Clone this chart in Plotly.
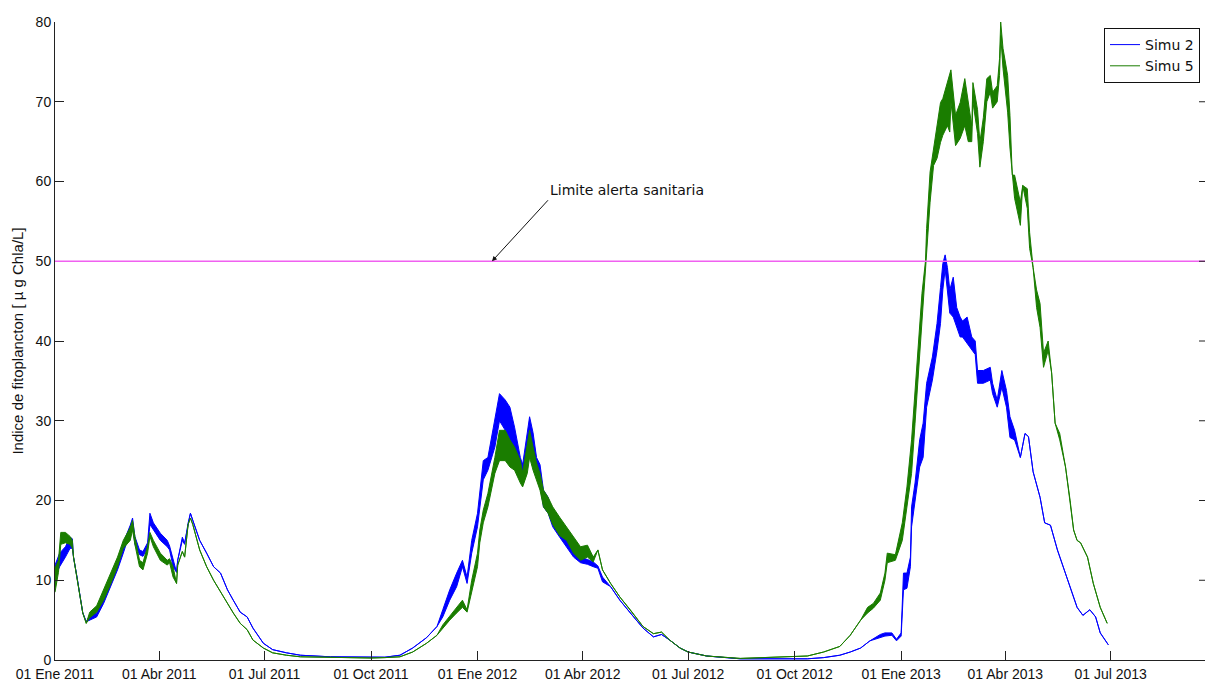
import pandas as pd
import plotly.graph_objects as go

START = pd.Timestamp("2011-01-01")

# Simu 2 — simulation day and lower / upper envelope of the tidal oscillation [µg Chla/L]
simu2_day = [0, 4, 9, 13, 15, 16, 19, 22, 24, 27, 30, 36, 42, 48, 54, 59, 65, 67, 69, 73,
             76, 80, 82, 85, 91, 97, 99, 102, 105, 106, 110, 112, 115, 117, 119, 125, 131, 137, 143, 149,
             154, 160, 166, 171, 180, 188, 200, 212, 238, 273, 285, 298, 309, 321, 330, 335, 341, 347, 352, 356,
             360, 365, 367, 370, 374, 380, 384, 389, 393, 397, 402, 404, 408, 410, 413, 416, 419, 422, 426, 430,
             436, 442, 448, 454, 460, 465, 469, 473, 480, 488, 497, 508, 517, 524, 531, 540, 547, 563, 592, 620,
             650, 664, 678, 687, 696, 704, 713, 717, 723, 727, 731, 733, 736, 739, 740, 743, 747, 750, 753, 758,
             762, 765, 767, 769, 771, 773, 776, 779, 782, 784, 788, 792, 795, 797, 802, 808, 810, 814, 818, 822,
             825, 829, 834, 838, 841, 845, 851, 855, 860, 866, 871, 877, 883, 888, 894, 899, 903, 910]
simu2_lo = [10.3, 11.7, 12.9, 14.0, 14.0, 12.9, 10.4, 7.9, 5.9, 4.8, 5.0, 5.4, 7.1, 9.2, 11.3, 13.4, 15.9, 17.0, 14.5, 13.2,
            13.0, 14.0, 17.0, 16.3, 15.0, 14.2, 13.8, 11.7, 11.0, 12.5, 15.0, 14.5, 17.2, 18.4, 17.5, 15.0, 13.4, 11.7, 10.9, 8.8,
            7.5, 6.0, 5.4, 4.0, 2.1, 1.3, 0.9, 0.6, 0.4, 0.3, 0.35, 0.6, 1.5, 2.8, 4.2, 5.4, 7.5, 9.2, 11.7, 9.6,
            13.4, 16.7, 19.2, 22.6, 23.8, 26.7, 30.0, 28.8, 27.6, 26.3, 22.6, 22.0, 25.4, 28.0, 25.4, 23.4, 22.0, 19.2, 18.4, 16.7,
            15.4, 14.2, 12.9, 12.2, 12.0, 11.7, 11.5, 9.8, 9.2, 7.5, 5.9, 4.0, 2.9, 3.2, 2.5, 1.5, 1.0, 0.5, 0.15, 0.15,
            0.15, 0.3, 0.6, 1.0, 1.5, 2.4, 2.8, 3.0, 3.1, 2.4, 3.0, 8.8, 9.0, 11.7, 16.7, 19.7, 24.2, 25.4, 31.7, 35.1,
            38.8, 42.2, 46.4, 49.0, 46.4, 43.5, 43.0, 41.7, 40.5, 40.5, 39.7, 38.8, 38.3, 34.7, 34.7, 35.1, 33.4, 31.7, 34.2, 31.7,
            27.9, 27.6, 25.4, 28.4, 28.0, 23.6, 20.4, 17.2, 16.9, 13.8, 11.7, 9.2, 6.6, 5.6, 6.3, 5.4, 3.4, 1.9]
simu2_hi = [11.9, 13.4, 14.2, 15.4, 15.2, 12.9, 10.4, 7.9, 5.9, 4.8, 5.6, 5.9, 7.9, 10.0, 12.2, 14.7, 16.9, 17.8, 15.5, 13.8,
            13.6, 14.7, 18.4, 17.2, 15.9, 15.0, 14.3, 12.5, 11.0, 12.5, 15.4, 14.7, 17.2, 18.4, 17.5, 15.0, 13.4, 11.7, 10.9, 8.8,
            7.5, 6.0, 5.4, 4.0, 2.1, 1.3, 0.9, 0.6, 0.4, 0.3, 0.35, 0.6, 1.5, 2.8, 4.2, 6.3, 8.8, 10.9, 12.5, 10.4,
            15.0, 18.4, 21.3, 25.0, 25.4, 30.5, 33.4, 32.6, 31.7, 29.2, 25.4, 24.5, 28.8, 30.5, 28.5, 25.4, 24.5, 21.3, 20.4, 18.5,
            17.5, 15.4, 14.7, 12.9, 12.6, 12.3, 11.8, 10.4, 9.2, 7.5, 5.9, 4.0, 2.9, 3.2, 2.5, 1.5, 1.0, 0.5, 0.15, 0.15,
            0.15, 0.3, 0.6, 1.0, 1.5, 2.4, 3.2, 3.4, 3.4, 2.6, 3.4, 10.9, 10.9, 12.9, 19.2, 22.2, 27.6, 29.7, 34.7, 38.0,
            42.2, 46.7, 49.7, 50.8, 49.2, 46.4, 48.0, 44.2, 43.0, 42.5, 43.0, 40.5, 40.0, 36.3, 36.3, 36.7, 34.7, 32.6, 36.3, 33.8,
            30.5, 28.8, 25.4, 28.4, 28.0, 23.6, 20.4, 17.2, 16.9, 13.8, 11.7, 9.2, 6.6, 5.6, 6.3, 5.4, 3.4, 1.9]

# Simu 5 — simulation day and lower / upper envelope [µg Chla/L]
simu5_day = [0, 3, 5, 9, 13, 15, 16, 19, 22, 24, 27, 30, 36, 42, 48, 54, 59, 65, 67, 69,
             73, 76, 80, 82, 85, 91, 97, 99, 102, 105, 106, 110, 112, 115, 117, 119, 125, 131, 137, 143,
             149, 154, 160, 166, 171, 180, 188, 200, 212, 238, 273, 285, 298, 309, 321, 330, 335, 341, 347, 352,
             356, 360, 365, 367, 370, 374, 380, 384, 389, 393, 397, 402, 404, 408, 410, 413, 416, 419, 422, 426,
             430, 436, 442, 448, 454, 460, 465, 469, 473, 480, 488, 497, 508, 517, 524, 531, 540, 547, 563, 592,
             620, 638, 650, 664, 678, 687, 696, 702, 707, 713, 717, 719, 726, 732, 736, 740, 743, 746, 749, 752,
             753, 756, 759, 762, 765, 767, 771, 773, 774, 778, 782, 786, 789, 792, 793, 797, 799, 802, 805, 808,
             810, 814, 816, 817, 819, 823, 825, 827, 829, 834, 836, 840, 842, 845, 848, 851, 854, 858, 861, 864,
             868, 873, 877, 880, 883, 886, 892, 897, 903, 909]
simu5_lo = [8.5, 11.0, 14.5, 14.7, 14.5, 14.0, 12.9, 10.4, 7.9, 5.9, 4.6, 5.3, 6.0, 7.5, 9.5, 11.7, 14.0, 15.0, 16.3, 14.5,
            11.7, 11.3, 13.4, 15.5, 14.2, 12.5, 11.9, 12.2, 10.4, 9.6, 11.9, 13.6, 12.9, 17.0, 17.8, 17.0, 13.8, 11.7, 10.0, 8.5,
            7.1, 5.9, 4.6, 3.8, 2.5, 1.5, 0.9, 0.6, 0.4, 0.3, 0.25, 0.3, 0.4, 1.0, 2.1, 3.1, 4.0, 5.0, 5.9, 6.6,
            6.0, 8.4, 11.7, 14.7, 17.2, 19.2, 23.4, 25.0, 25.0, 24.2, 23.8, 22.2, 21.7, 23.4, 25.4, 23.8, 22.6, 21.3, 19.2, 18.4,
            17.0, 15.6, 15.0, 13.4, 12.5, 12.9, 12.3, 13.8, 11.3, 9.6, 7.9, 6.3, 4.2, 3.3, 3.5, 2.5, 1.5, 1.0, 0.5, 0.2,
            0.35, 0.5, 0.5, 1.0, 1.7, 3.1, 5.0, 5.9, 6.5, 7.5, 10.0, 12.2, 12.5, 15.0, 19.2, 23.4, 29.7, 36.0, 42.2, 48.5,
            51.6, 57.4, 62.0, 62.9, 64.9, 65.8, 67.0, 66.2, 70.0, 64.5, 65.4, 67.0, 65.0, 65.0, 70.0, 66.0, 61.8, 65.0, 70.0, 71.2,
            69.2, 70.0, 73.3, 78.3, 74.2, 68.7, 64.2, 60.8, 57.9, 54.5, 59.5, 56.6, 51.6, 49.2, 44.2, 41.7, 36.7, 38.8, 36.0, 29.7,
            27.6, 24.2, 20.0, 16.3, 15.0, 14.7, 12.9, 9.6, 6.6, 4.6]
simu5_hi = [11.5, 12.5, 16.0, 16.0, 15.5, 15.0, 12.9, 10.4, 7.9, 5.9, 4.6, 6.0, 6.8, 8.8, 10.8, 12.9, 15.0, 16.6, 17.5, 15.5,
            12.5, 12.2, 14.3, 16.0, 15.0, 13.4, 12.5, 12.7, 11.7, 9.6, 11.9, 13.6, 12.9, 17.0, 17.8, 17.0, 13.8, 11.7, 10.0, 8.5,
            7.1, 5.9, 4.6, 3.8, 2.5, 1.5, 0.9, 0.6, 0.4, 0.3, 0.25, 0.3, 0.4, 1.0, 2.1, 3.1, 4.4, 5.5, 6.6, 7.5,
            6.3, 10.0, 13.4, 16.3, 18.8, 20.9, 25.4, 28.8, 28.8, 27.6, 26.7, 25.0, 23.5, 26.7, 28.8, 26.7, 24.7, 23.4, 21.3, 20.4,
            19.2, 17.9, 16.7, 15.4, 14.2, 14.4, 12.9, 13.8, 11.3, 9.6, 7.9, 6.3, 4.2, 3.3, 3.5, 2.5, 1.5, 1.0, 0.5, 0.2,
            0.35, 0.5, 0.5, 1.0, 1.7, 3.1, 5.0, 6.6, 7.1, 8.4, 10.9, 13.4, 13.2, 17.2, 21.7, 27.6, 33.8, 41.0, 46.0, 50.0,
            54.1, 61.2, 64.2, 67.0, 69.9, 70.4, 72.4, 73.7, 74.0, 68.3, 69.9, 72.9, 70.0, 67.0, 72.4, 69.0, 64.9, 68.0, 72.9, 73.3,
            71.2, 72.0, 75.4, 80.0, 76.7, 73.3, 68.3, 60.8, 60.8, 57.4, 59.5, 59.1, 53.6, 49.2, 46.4, 44.7, 38.5, 40.0, 36.0, 29.7,
            28.4, 24.2, 20.0, 16.3, 15.0, 14.7, 12.9, 9.6, 6.6, 4.6]

ALERT_LEVEL = 50  # sanitary alert threshold [µg Chla/L]

# axis ticks
y_ticks = [0, 10, 20, 30, 40, 50, 60, 70, 80]
x_tick_dates = ["2011-01-01", "2011-04-01", "2011-07-01", "2011-10-01",
                "2012-01-01", "2012-04-01", "2012-07-01", "2012-10-01",
                "2013-01-01", "2013-04-01", "2013-07-01"]
MESES = {1: "Ene", 4: "Abr", 7: "Jul", 10: "Oct"}
x_tick_text = [f"01 {MESES[pd.Timestamp(d).month]} {pd.Timestamp(d).year}" for d in x_tick_dates]

BLUE = "#0000ff"
GREEN = "#1a7d00"
MAGENTA = "#f060f0"
LABEL_FONT = "Liberation Sans, Arial, Helvetica, sans-serif"
TEXT_FONT = "DejaVu Sans, Verdana, sans-serif"


def to_dates(days):
    return [START + pd.Timedelta(days=d) for d in days]


fig = go.Figure()
for name, days, lo, hi, color in [("Simu 2", simu2_day, simu2_lo, simu2_hi, BLUE),
                                  ("Simu 5", simu5_day, simu5_lo, simu5_hi, GREEN)]:
    assert len(days) == len(lo) == len(hi)
    t = to_dates(days)
    fig.add_trace(go.Scatter(x=t, y=hi, mode="lines", name=name,
                             line=dict(color=color, width=1), legendgroup=name))
    fig.add_trace(go.Scatter(x=t, y=lo, mode="lines", name=name, showlegend=False,
                             line=dict(color=color, width=1), fill="tonexty",
                             fillcolor=color, legendgroup=name))

# alert threshold line
fig.add_shape(type="line", xref="paper", x0=0, x1=1, yref="y", y0=ALERT_LEVEL, y1=ALERT_LEVEL,
              line=dict(color=MAGENTA, width=1.6), layer="above")

# small ticks on the right-hand side of the box
for v in y_ticks[1:-1]:
    fig.add_shape(type="line", xref="paper", x0=1 - 6 / 1150, x1=1, yref="y", y0=v, y1=v,
                  line=dict(color="#222", width=1))

fig.add_annotation(x=START + pd.Timedelta(days=377.5), y=ALERT_LEVEL,
                   text="Limite alerta sanitaria", showarrow=True,
                   ax=56, ay=-61, xanchor="left", yanchor="bottom",
                   arrowhead=2, arrowsize=1, arrowwidth=1, arrowcolor="#111",
                   font=dict(family=TEXT_FONT, size=14, color="#111"))

fig.update_layout(
    width=1205, height=681,
    margin=dict(l=55, r=0, t=22, b=21, autoexpand=False),
    paper_bgcolor="white", plot_bgcolor="white",
    showlegend=True,
    legend=dict(x=(1104 - 55) / 1150, y=(660 - 28) / 638, xanchor="left", yanchor="top",
                bgcolor="white", bordercolor="#111", borderwidth=1,
                font=dict(family=TEXT_FONT, size=14, color="#111"), traceorder="normal"),
    xaxis=dict(type="date", range=[START, START + pd.Timedelta(days=993.5)],
               tickmode="array", tickvals=x_tick_dates, ticktext=x_tick_text,
               ticks="inside", ticklen=9, tickcolor="#222", showline=True, linecolor="#222",
               linewidth=1, showgrid=False, zeroline=False, ticklabelstandoff=1,
               tickfont=dict(family=LABEL_FONT, size=14, color="#111")),
    yaxis=dict(range=[0, 80], tickmode="array", tickvals=y_ticks,
               ticks="inside", ticklen=9, tickcolor="#222", showline=True, linecolor="#222",
               linewidth=1, showgrid=False, zeroline=False,
               tickfont=dict(family=LABEL_FONT, size=14, color="#111"),
               title=dict(text="Indice de fitoplancton [ µ g Chla/L]", standoff=8,
                          font=dict(family=LABEL_FONT, size=15, color="#111"))),
)

fig.write_html("out.html")
